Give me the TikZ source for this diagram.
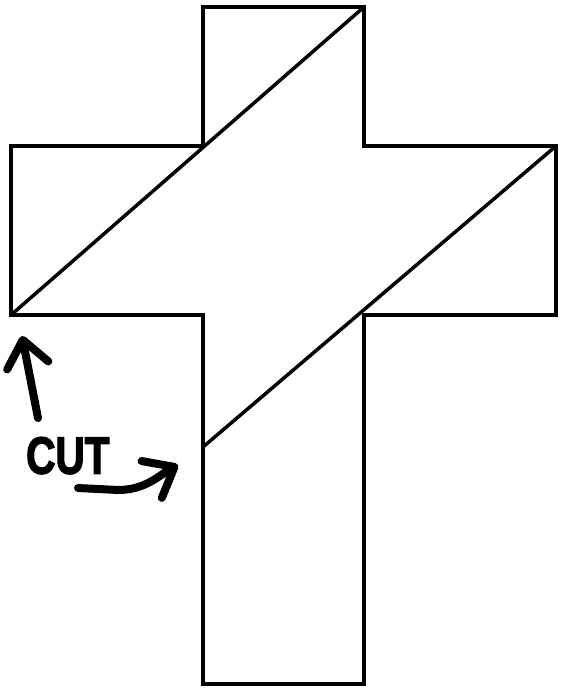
\documentclass[tikz,border=0pt]{standalone}
\usepackage{fontspec}
\setmainfont{Liberation Sans}
\usetikzlibrary{arrows.meta,positioning}

\begin{document}
\begin{tikzpicture}[x=1pt, y=-1pt,
    outline/.style={line width=4.5pt, line join=miter},
    cutline/.style={line width=3.5pt},
    hand/.style={line width=8pt, line cap=round, line join=round,
        -{Straight Barb[length=26pt, width=42pt, line cap=round, line join=round]}}]
    \useasboundingbox (0,0) rectangle (565,692);

    % Cross outline
    \draw[outline] (203,7) -- (364,7) -- (364,146) -- (556,146) -- (556,315)
        -- (364,315) -- (364,684) -- (203,684) -- (203,315) -- (11,315)
        -- (11,146) -- (203,146) -- cycle;

    % Cuts
    \coordinate (lowleft) at (11,315);
    \coordinate (topright) at (364,7);
    \coordinate (midleft) at (203,447);
    \coordinate (armright) at (556,146);
    \draw[cutline] (lowleft) -- (topright);
    \draw[cutline] (midleft) -- (armright);

    % Label
    \node[font=\bfseries\fontsize{52}{52}\selectfont\addfontfeatures{FakeBold=3},
        xscale=0.78, inner sep=0pt, anchor=north west] (cut) at (26,437) {CUT};

    % Arrows
    \coordinate (up start) at (38,418);
    \coordinate (up tip) at (22,336);
    \coordinate (side start) at (78,488);
    \coordinate (side tip) at (178,465);
    \draw[hand] (up start) -- (up tip);
    \draw[hand] (side start) -- (118,490) .. controls (145,490) and (158,476) .. (side tip);
\end{tikzpicture}
\end{document}
